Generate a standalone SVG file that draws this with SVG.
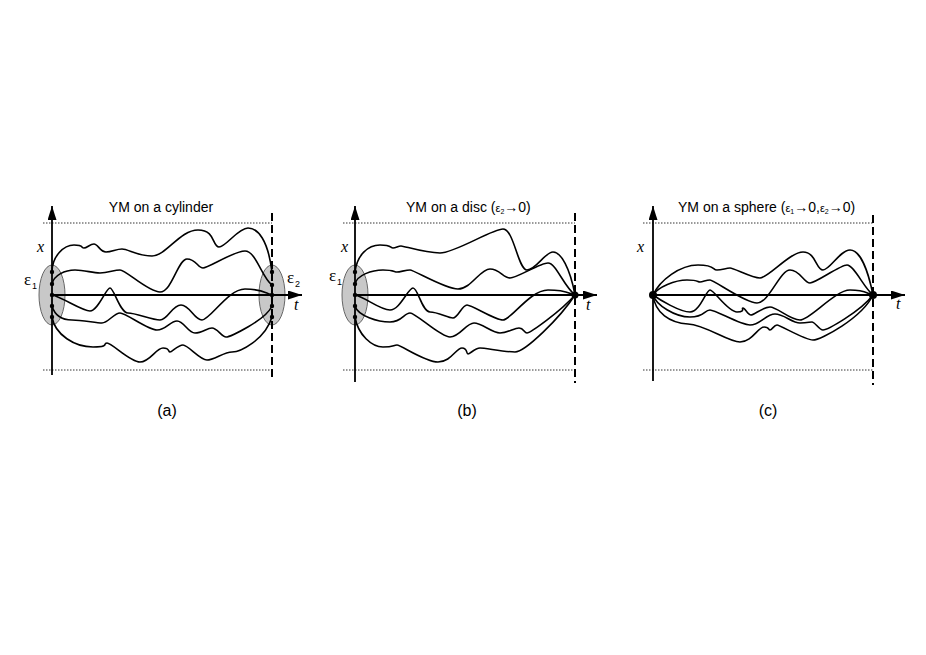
<svg xmlns="http://www.w3.org/2000/svg" width="926" height="655" viewBox="0 0 926 655">
<defs>
<style>
.ax{stroke:#000;stroke-width:1.8;fill:none}
.cv{stroke:#000;stroke-width:1.6;fill:none;stroke-linecap:round}
.dot{stroke:#000;stroke-width:0.8;stroke-dasharray:1.5 1.5;fill:none}
.dash{stroke:#000;stroke-width:2;stroke-dasharray:8 4;fill:none}
.ell{fill:#c8c8c8;stroke:#666;stroke-width:1}
.title{font-family:"Liberation Sans",Arial,sans-serif;font-size:14px;fill:#000}
.lab{font-family:"Liberation Sans",Arial,sans-serif;font-size:16px;fill:#000}
.var{font-family:"Liberation Serif","Times New Roman",serif;font-style:italic;font-size:16px;fill:#000}
.eps{font-family:"Liberation Serif","Times New Roman",serif;font-size:17px;fill:#000}
.sub{font-family:"Liberation Sans",Arial,sans-serif;font-size:9px;fill:#000}
.pt{fill:#000}
</style>
<marker id="arr" markerWidth="15" markerHeight="10" refX="14" refY="4.5" orient="auto" markerUnits="userSpaceOnUse">
<path d="M0,0 L14,4.5 L0,9 z" fill="#000"/>
</marker>
</defs>
<rect width="926" height="655" fill="#fff"/>

<g id="panel-a">
<text class="title" x="161" y="212" text-anchor="middle">YM on a cylinder</text>
<line class="dot" x1="43" y1="223" x2="272" y2="223"/>
<line class="dot" x1="43" y1="370" x2="272" y2="370"/>
<ellipse class="ell" cx="52" cy="295" rx="13" ry="30"/>
<ellipse class="ell" cx="272" cy="295" rx="13" ry="30"/>
<line class="dash" x1="272" y1="213" x2="272" y2="379"/>
<line class="ax" x1="52" y1="375" x2="52" y2="206" marker-end="url(#arr)"/>
<line class="ax" x1="52" y1="295" x2="302" y2="295" marker-end="url(#arr)"/>
<g id="curves-a">
<path class="cv" d="M52,272 C52,256 64,245 74,245 S81,248 84,248 S90,244 94,244 S100,252 106,252 S116,249 122,249 S138,256 152,256 S180,230 198,230 S212,247 219,247 S238,228 248,228 S268,240 272,272"/>
<path class="cv" d="M52,284 C54,275 65,270 75,270 S92,273 100,273 S114,270 120,270 S148,292 160,292 S178,259 187,259 S198,268 203,268 S234,251 245,251 S262,278 272,285"/>
<path class="cv" d="M52,295 C62,297 82,311 90,311 S106,288 110,288 S120,313 128,313 S152,320 160,320 S172,305 181,305 S194,320 202,320 S228,289 245,289 S265,293 272,295"/>
<path class="cv" d="M52,306 C55,316 62,320 72,320 S96,323 102,323 S114,313 120,313 S148,330 157,330 S170,321 177,321 S188,333 195,333 S207,328 212,328 S222,337 226,337 S266,320 272,306"/>
<path class="cv" d="M52,317 C55,335 75,347 93,347 S102,343 107,343 S130,362 140,362 S156,348 163,348 S168,352 170,352 S178,345 183,345 S200,360 207,360 S224,352 232,352 S265,340 272,317"/>
</g>
<g id="dots-a">
<circle class="pt" cx="52" cy="272" r="2.2"/><circle class="pt" cx="52" cy="284" r="2.2"/><circle class="pt" cx="52" cy="295" r="2.2"/><circle class="pt" cx="52" cy="306" r="2.2"/><circle class="pt" cx="52" cy="317" r="2.2"/>
<circle class="pt" cx="272" cy="272" r="2.2"/><circle class="pt" cx="272" cy="285" r="2.2"/><circle class="pt" cx="272" cy="295" r="2.2"/><circle class="pt" cx="272" cy="306" r="2.2"/><circle class="pt" cx="272" cy="317" r="2.2"/>
</g>
<text class="var" x="37" y="252">x</text>
<text class="var" x="294" y="310">t</text>
<text class="eps" x="24" y="285">ε</text><text class="sub" x="32" y="289">1</text>
<text class="eps" x="287" y="283">ε</text><text class="sub" x="295" y="287">2</text>
<text class="lab" x="167" y="416" text-anchor="middle">(a)</text>
</g>

<g id="panel-b">
<text class="title" x="406" y="212">YM on a disc (<tspan font-size="11">ε</tspan><tspan font-size="7" dy="2">2</tspan><tspan dy="-2">→0)</tspan></text>
<line class="dot" x1="343" y1="223" x2="575" y2="223"/>
<line class="dot" x1="343" y1="370" x2="575" y2="370"/>
<ellipse class="ell" cx="355" cy="295" rx="13" ry="30"/>
<line class="dash" x1="575" y1="213" x2="575" y2="383"/>
<line class="ax" x1="355" y1="382" x2="355" y2="206" marker-end="url(#arr)"/>
<line class="ax" x1="355" y1="295" x2="597" y2="295" marker-end="url(#arr)"/>
<g id="curves-b">
<path class="cv" d="M355,272 C357,255 368,245 380,245 S390,248 393,248 S398,246 401,246 S425,253 440,253 S492,229 503,229 S518,270 527,270 S545,252 553,252 S570,268 575,295"/>
<path class="cv" d="M355,284 C357,275 372,270 383,270 S394,272 397,272 S406,270 410,270 S445,289 458,289 S480,269 490,269 S503,278 510,278 S540,263 548,263 S563,285 575,295"/>
<path class="cv" d="M355,295 C365,297 380,310 390,310 S408,288 413,288 S422,312 430,312 S448,318 453,318 S462,305 467,305 S495,320 503,320 S530,290 548,290 S568,293 575,295"/>
<path class="cv" d="M355,306 C358,316 378,322 390,322 S404,313 410,313 S440,337 450,337 S466,323 474,323 S492,333 500,333 S514,328 519,328 S524,333 527,333 S560,312 575,295"/>
<path class="cv" d="M355,317 C358,335 372,347 383,347 S393,345 397,345 S425,362 438,362 S456,348 462,348 S466,354 468,354 S475,348 480,348 S505,352 515,352 S560,318 575,295"/>
</g>
<g id="dots-b">
<circle class="pt" cx="355" cy="272" r="2.2"/><circle class="pt" cx="355" cy="284" r="2.2"/><circle class="pt" cx="355" cy="295" r="2.2"/><circle class="pt" cx="355" cy="306" r="2.2"/><circle class="pt" cx="355" cy="317" r="2.2"/>
<circle class="pt" cx="575" cy="295" r="3.5"/>
</g>
<text class="var" x="341" y="252">x</text>
<text class="var" x="586" y="310">t</text>
<text class="eps" x="329" y="281">ε</text><text class="sub" x="337" y="285">1</text>
<text class="lab" x="467" y="416" text-anchor="middle">(b)</text>
</g>

<g id="panel-c">
<text class="title" x="678" y="212">YM on a sphere (<tspan font-size="11">ε</tspan><tspan font-size="7" dy="2">1</tspan><tspan dy="-2">→0,</tspan><tspan font-size="11">ε</tspan><tspan font-size="7" dy="2">2</tspan><tspan dy="-2">→0)</tspan></text>
<line class="dot" x1="643" y1="223" x2="873" y2="223"/>
<line class="dot" x1="643" y1="370" x2="873" y2="370"/>
<line class="dash" x1="873" y1="215" x2="873" y2="385"/>
<line class="ax" x1="653" y1="381" x2="653" y2="206" marker-end="url(#arr)"/>
<line class="ax" x1="653" y1="295" x2="905" y2="295" marker-end="url(#arr)"/>
<g id="curves-c">
<path class="cv" d="M653,295 C660,280 680,265 698,265 S712,270 717,270 S726,268 730,268 S752,278 760,278 S790,252 803,252 S816,270 823,270 S840,250 850,250 S868,270 873,295"/>
<path class="cv" d="M653,295 C658,287 675,280 687,280 S697,282 700,282 S706,280 710,280 S745,303 757,303 S780,270 790,270 S804,283 810,283 S840,265 847,265 S864,288 873,295"/>
<path class="cv" d="M653,295 C660,300 680,312 690,312 S706,290 710,290 S728,312 737,312 S741,308 743,308 S748,315 751,315 S763,307 770,307 S790,320 800,320 S835,290 850,290 S866,293 873,295"/>
<path class="cv" d="M653,295 C656,305 675,317 690,317 S704,310 710,310 S740,325 750,325 S766,314 775,314 S792,323 800,323 S809,322 812,322 S819,330 823,330 S860,312 873,295"/>
<path class="cv" d="M653,295 C655,313 670,323 688,324 S728,342 740,342 S758,327 764,327 S768,330 770,330 S774,325 777,325 S805,340 813,340 S862,318 873,295"/>
</g>
<g id="dots-c">
<circle class="pt" cx="653" cy="295" r="4"/>
<circle class="pt" cx="873" cy="295" r="4"/>
</g>
<text class="var" x="637" y="252">x</text>
<text class="var" x="896" y="309">t</text>
<text class="lab" x="768" y="416" text-anchor="middle">(c)</text>
</g>
</svg>
